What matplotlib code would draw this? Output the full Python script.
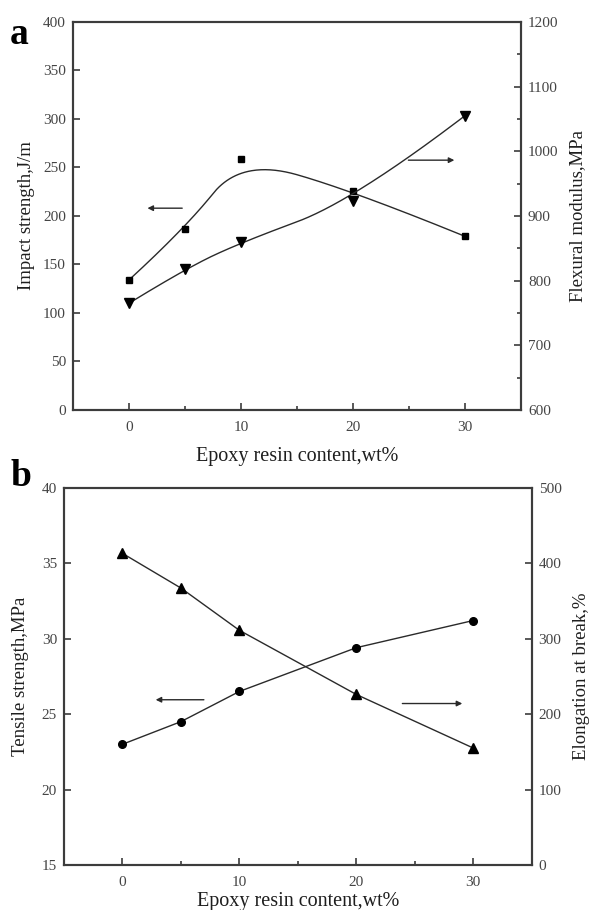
import numpy as np
import matplotlib
matplotlib.use("Agg")
import matplotlib.pyplot as plt

plt.rcParams['font.family'] = ['Liberation Serif', 'DejaVu Serif']

# ---- data ----
epoxy = [0, 5, 10, 20, 30]
impact = [134, 187, 259, 226, 179]          # J/m (left, panel a)
flexural = [765, 818, 859, 923, 1055]       # MPa (right, panel a)
tensile = [23.0, 24.5, 26.5, 29.4, 31.2]    # MPa (left, panel b)
elongation = [413, 367, 311, 226, 155]      # % (right, panel b)

xticks = [0, 10, 20, 30]


def bspline(cx, cy, k=2, n=300):
    cx = np.asarray(cx, float); cy = np.asarray(cy, float)
    m = len(cx)
    knots = np.concatenate([np.zeros(k), np.linspace(0, 1, m - k + 1), np.ones(k)])
    t = np.linspace(0, 1 - 1e-9, n)

    def N(i, p, t):
        if p == 0:
            return ((knots[i] <= t) & (t < knots[i + 1])).astype(float)
        d1 = knots[i + p] - knots[i]
        d2 = knots[i + p + 1] - knots[i + 1]
        out = np.zeros_like(t)
        if d1 > 0:
            out += (t - knots[i]) / d1 * N(i, p - 1, t)
        if d2 > 0:
            out += (knots[i + p + 1] - t) / d2 * N(i + 1, p - 1, t)
        return out

    B = np.array([N(i, k, t) for i in range(m)])
    return B.T @ cx, B.T @ cy


LINE = '#2a2a2a'
SPINE = '#3c3c3c'
TICKC = '#444444'
LABC = '#1e1e1e'

fig = plt.figure(figsize=(5.9, 9.1), dpi=100)


def style(ax, axr):
    for a in (ax, axr):
        for s in a.spines.values():
            s.set_color(SPINE)
            s.set_linewidth(1.5)
    ax.set_xlim(-5, 35)
    ax.set_xticks(xticks)
    ax.set_xticks([5, 15, 25], minor=True)
    ax.tick_params(axis='x', which='both', direction='in', top=False, colors=SPINE,
                   labelcolor=TICKC, labelsize=11, pad=8)
    ax.tick_params(axis='x', which='major', length=5, width=1.2)
    ax.tick_params(axis='x', which='minor', length=3, width=1.2)
    ax.tick_params(axis='y', which='both', direction='in', colors=SPINE,
                   labelcolor=TICKC, labelsize=11, length=5, width=1.2, pad=5)
    axr.tick_params(axis='y', which='both', direction='in', colors=SPINE,
                    labelcolor=TICKC, labelsize=11, width=1.2, pad=5)
    axr.tick_params(axis='y', which='major', length=5)
    axr.tick_params(axis='y', which='minor', length=3)


# ---- panel a ----
ax = fig.add_axes([0.1237, 0.5495, 0.7593, 0.4264])
axr = ax.twinx()
style(ax, axr)
ax.set_ylim(0, 400)
ax.set_yticks(np.arange(0, 401, 50))
axr.set_ylim(600, 1200)
axr.set_yticks(np.arange(600, 1201, 100))
axr.set_yticks(np.arange(650, 1200, 100), minor=True)

sx, sy = bspline(epoxy, impact)
ax.plot(sx, sy, color=LINE, lw=1.0)
ax.plot(epoxy, impact, ls='none', marker='s', ms=5, color='black')
fx, fy = bspline(epoxy, flexural)
axr.plot(fx, fy, color=LINE, lw=1.0)
axr.plot(epoxy, flexural, ls='none', marker='v', ms=6.5, color='black')

ax.annotate('', xy=(1.4, 208), xytext=(5.0, 208),
            arrowprops=dict(arrowstyle='-|>', color=LINE, lw=1.0, mutation_scale=8))
ax.annotate('', xy=(29.3, 257.5), xytext=(24.7, 257.5),
            arrowprops=dict(arrowstyle='-|>', color=LINE, lw=1.0, mutation_scale=8))

ax.set_xlabel('Epoxy resin content,wt%', fontsize=14.5, color=LABC, labelpad=9)
ax.set_ylabel('Impact strength,J/m', fontsize=13.5, color=LABC, labelpad=6)
axr.set_ylabel('Flexural modulus,MPa', fontsize=13.5, color=LABC, labelpad=8)
fig.text(0.017, 0.962, 'a', fontsize=27, fontweight='bold', color='black',
         ha='left', va='center')

# ---- panel b ----
bx = fig.add_axes([0.1085, 0.04945, 0.7927, 0.4146])
bxr = bx.twinx()
style(bx, bxr)
bx.set_ylim(15, 40)
bx.set_yticks(np.arange(15, 41, 5))
bxr.set_ylim(0, 500)
bxr.set_yticks(np.arange(0, 501, 100))

bx.plot(epoxy, tensile, color=LINE, lw=1.0, marker='o', ms=5.5,
        mfc='black', mec='black')
bxr.plot(epoxy, elongation, color=LINE, lw=1.0, marker='^', ms=6.5,
         mfc='black', mec='black')

bx.annotate('', xy=(2.6, 25.95), xytext=(7.2, 25.95),
            arrowprops=dict(arrowstyle='-|>', color=LINE, lw=1.0, mutation_scale=8))
bx.annotate('', xy=(29.3, 25.7), xytext=(23.7, 25.7),
            arrowprops=dict(arrowstyle='-|>', color=LINE, lw=1.0, mutation_scale=8))

bx.set_xlabel('Epoxy resin content,wt%', fontsize=14.5, color=LABC, labelpad=2)
bx.set_ylabel('Tensile strength,MPa', fontsize=13.5, color=LABC, labelpad=9)
bxr.set_ylabel('Elongation at break,%', fontsize=13.5, color=LABC, labelpad=8)
fig.text(0.017, 0.476, 'b', fontsize=27, fontweight='bold', color='black',
         ha='left', va='center')

fig.savefig('out.png', dpi=100, facecolor='white')
